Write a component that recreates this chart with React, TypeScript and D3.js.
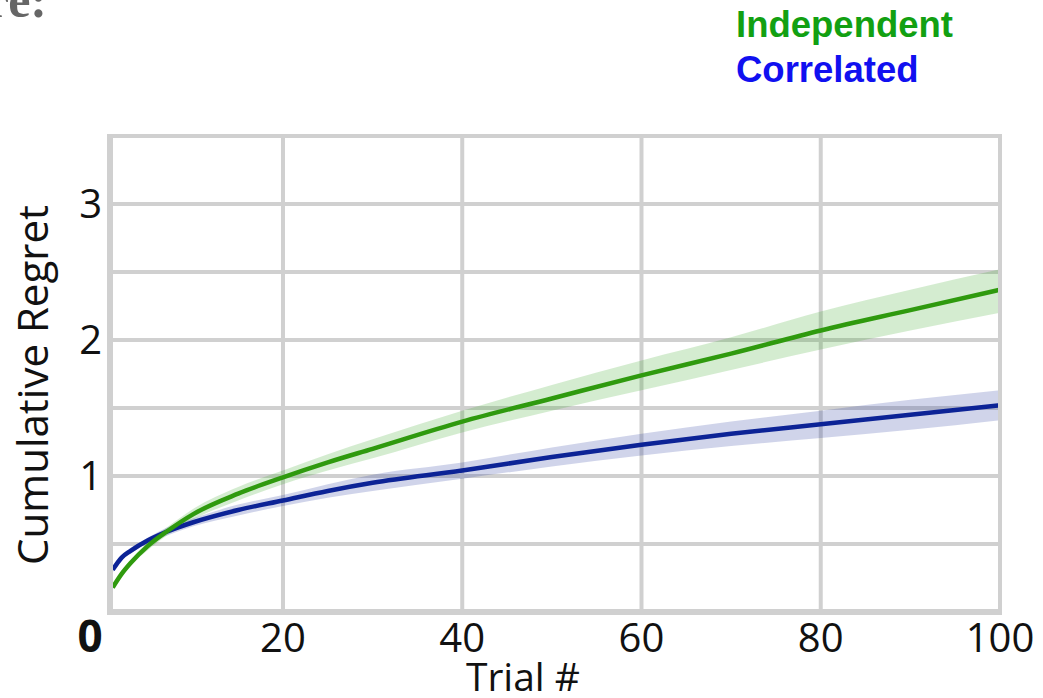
import React, { useRef, useEffect } from "react";
import * as d3 from "d3";

// values
const trials = [1, 2, 3, 5, 7, 10, 15, 20, 25, 30, 40, 50, 60, 70, 80, 90, 100];
const independentMean = [0.18, 0.28, 0.36, 0.49, 0.59, 0.72, 0.87, 0.99, 1.1, 1.2, 1.4, 1.57, 1.74, 1.9, 2.07, 2.22, 2.37];
const independentLow = [0.17, 0.26, 0.34, 0.46, 0.56, 0.68, 0.82, 0.94, 1.04, 1.13, 1.32, 1.48, 1.63, 1.78, 1.93, 2.07, 2.2];
const independentHigh = [0.19, 0.3, 0.38, 0.52, 0.62, 0.76, 0.92, 1.04, 1.16, 1.27, 1.48, 1.67, 1.85, 2.02, 2.21, 2.37, 2.52];
const correlatedMean = [0.31, 0.4, 0.45, 0.53, 0.59, 0.66, 0.75, 0.82, 0.89, 0.95, 1.04, 1.14, 1.23, 1.31, 1.38, 1.45, 1.52];
const correlatedLow = [0.29, 0.38, 0.43, 0.51, 0.56, 0.63, 0.71, 0.78, 0.84, 0.89, 0.98, 1.07, 1.15, 1.22, 1.28, 1.34, 1.41];
const correlatedHigh = [0.33, 0.42, 0.47, 0.55, 0.62, 0.69, 0.79, 0.86, 0.94, 1.01, 1.1, 1.21, 1.31, 1.4, 1.48, 1.56, 1.63];

const xTicks = [20, 40, 60, 80, 100];
const yTicks = [1, 2, 3];
const yGrid = [0.5, 1, 1.5, 2, 2.5, 3];
const legendLabels = ["Independent", "Correlated"];

const width = 1043;
const height = 698;

function RegretChart() {
    const svgRef = useRef<SVGSVGElement>(null);

    useEffect(() => {
        const svg = d3.select(svgRef.current);
        svg.selectAll("*").remove();

        const x = d3.scaleLinear().domain([0.7, 100]).range([110, 1000]);
        const y = d3.scaleLinear().domain([0, 3.5]).range([612, 136]);
        const grey = "#d0d0d0";

        // header fragment cut off at the top left
        svg.append("text")
            .attr("x", 47).attr("y", 17)
            .attr("text-anchor", "end")
            .attr("font-family", "Liberation Serif, serif")
            .attr("font-weight", "bold")
            .attr("font-size", 50)
            .attr("fill", "#666")
            .text("re:");

        // legend
        const legendColors = ["#12a012", "#1010f0"];
        svg.selectAll(".legend")
            .data(legendLabels)
            .join("text")
            .attr("class", "legend")
            .attr("x", 736)
            .attr("y", (d, i) => 37 + i * 45)
            .attr("font-family", "Liberation Sans, Arial, sans-serif")
            .attr("font-weight", "bold")
            .attr("font-size", 36.5)
            .attr("fill", (d, i) => legendColors[i])
            .text(d => d);

        // grid
        svg.selectAll(".vgrid")
            .data(xTicks.slice(0, -1))
            .join("line")
            .attr("class", "vgrid")
            .attr("x1", d => x(d)).attr("x2", d => x(d))
            .attr("y1", y(3.5)).attr("y2", y(0))
            .attr("stroke", grey).attr("stroke-width", 4);
        svg.selectAll(".hgrid")
            .data(yGrid)
            .join("line")
            .attr("class", "hgrid")
            .attr("x1", x(0.7)).attr("x2", x(100))
            .attr("y1", d => y(d)).attr("y2", d => y(d))
            .attr("stroke", grey).attr("stroke-width", 4);

        const series = [
            { mean: independentMean, low: independentLow, high: independentHigh, line: "#2f9a0e", band: "rgba(60,170,40,0.22)" },
            { mean: correlatedMean, low: correlatedLow, high: correlatedHigh, line: "#0c2396", band: "rgba(40,60,160,0.22)" },
        ];

        const area = d3.area<number>()
            .x((d, i) => x(trials[i]))
            .curve(d3.curveMonotoneX);
        const line = d3.line<number>()
            .x((d, i) => x(trials[i]))
            .y(d => y(d))
            .curve(d3.curveMonotoneX);

        series.forEach(s => {
            svg.append("path")
                .datum(s.mean)
                .attr("fill", s.band)
                .attr("d", area.y0((d, i) => y(s.low[i])).y1((d, i) => y(s.high[i])));
        });
        series.slice().reverse().forEach(s => {
            svg.append("path")
                .datum(s.mean)
                .attr("fill", "none")
                .attr("stroke", s.line)
                .attr("stroke-width", 4.5)
                .attr("d", line);
        });

        // frame
        svg.append("path")
            .attr("d", `M${x(0.7)},${y(0)} V${y(3.5)} H${x(100)} V${y(0)}`)
            .attr("fill", "none").attr("stroke", grey).attr("stroke-width", 4);
        svg.append("path")
            .attr("d", `M${x(0.7)},${y(3.5) - 2} V${y(0)} H${x(100) + 2}`)
            .attr("fill", "none").attr("stroke", grey).attr("stroke-width", 6);

        const font = "Open Sans, sans-serif";
        svg.selectAll(".xtick")
            .data(xTicks)
            .join("text")
            .attr("class", "xtick")
            .attr("x", d => x(d))
            .attr("y", 652)
            .attr("text-anchor", "middle")
            .attr("font-family", font)
            .attr("font-size", 40)
            .attr("fill", "#111")
            .text(d => d);
        svg.append("text")
            .attr("x", 90).attr("y", 652)
            .attr("text-anchor", "middle")
            .attr("font-family", font)
            .attr("font-weight", "bold")
            .attr("font-size", 44)
            .attr("fill", "#111")
            .text("0");
        svg.selectAll(".ytick")
            .data(yTicks)
            .join("text")
            .attr("class", "ytick")
            .attr("x", 102)
            .attr("y", d => y(d) + 14)
            .attr("text-anchor", "end")
            .attr("font-family", font)
            .attr("font-size", 40)
            .attr("fill", "#111")
            .text(d => d);

        svg.append("text")
            .attr("x", 523).attr("y", 691)
            .attr("text-anchor", "middle")
            .attr("font-family", font)
            .attr("font-size", 39)
            .attr("fill", "#111")
            .text("Trial #");
        svg.append("text")
            .attr("transform", "translate(48,385) rotate(-90)")
            .attr("text-anchor", "middle")
            .attr("font-family", font)
            .attr("font-size", 42)
            .attr("fill", "#111")
            .text("Cumulative Regret");
    }, []);

    return <svg ref={svgRef} width={width} height={height} style={{ position: "absolute", left: 0, top: 0, background: "#fff" }} />;
}

export default function App() {
    return <RegretChart />;
}
